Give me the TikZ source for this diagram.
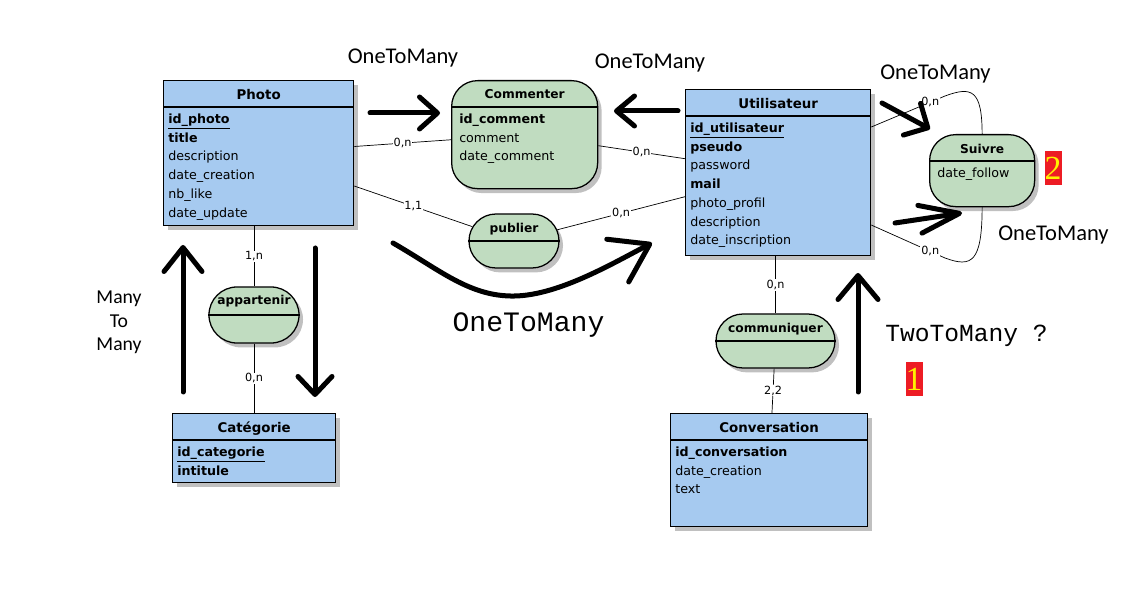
\documentclass[tikz,border=0pt]{standalone}
\usepackage{fontspec}
\setmainfont{DejaVu Sans}
\newfontfamily\calibfont{Carlito}
\newfontfamily\typefont{Liberation Mono}
\newfontfamily\digitfont{Liberation Serif}
\usepackage{xcolor}
\usepackage{tikz}
\usetikzlibrary{shapes.misc,arrows.meta,shadows}

\definecolor{entblue}{RGB}{166,202,240}
\definecolor{assocgreen}{RGB}{192,220,192}
\definecolor{shadowgray}{RGB}{192,192,192}
\definecolor{tagred}{RGB}{237,28,36}
\definecolor{tagyellow}{RGB}{255,242,0}

\begin{document}
\begin{tikzpicture}[
    x=0.025cm, y=-0.025cm,
    shadowed/.style={drop shadow={shadow xshift=0.1cm, shadow yshift=-0.11cm, fill=shadowgray, opacity=1}},
    entity/.style={rectangle, anchor=north west, draw=black, line width=0.9pt, fill=entblue, inner sep=0pt, shadowed},
    assoc/.style={rectangle, rounded corners=0.65cm, anchor=north west, draw=black, line width=0.9pt, fill=assocgreen, inner sep=0pt, shadowed},
    relation/.style={rounded rectangle, anchor=center, draw=black, line width=0.9pt, fill=assocgreen, inner sep=0pt, shadowed},
    heading/.style={anchor=base, inner sep=0pt, font=\bfseries\fontsize{9.5}{11}\selectfont},
    subheading/.style={heading, font=\bfseries\fontsize{8.7}{10}\selectfont},
    fields/.style={anchor=north west, align=left, inner sep=0pt, font=\fontsize{9}{13.3}\selectfont},
    card/.style={fill=white, inner sep=0.6pt, font=\fontsize{8}{9}\selectfont},
    link/.style={line width=0.5pt},
    bigarrow/.style={line width=0.125cm, line cap=round, line join=round, -{Straight Barb[round, length=0.5cm, width=0.9cm]}},
    note/.style={inner sep=0pt, font=\calibfont\fontsize{16}{18}\selectfont},
    typenote/.style={inner sep=0pt, font=\typefont\fontsize{20}{22}\selectfont},
    redtag/.style={fill=tagred, text=tagyellow, inner sep=0pt, minimum width=0.425cm, minimum height=0.825cm, font=\digitfont\fontsize{24}{24}\selectfont}
]
\useasboundingbox (0,0) rectangle (1133,616);

% Entities
\node (photo) [entity, minimum width=4.75cm, minimum height=3.625cm] at (163,80) {};
\node (utilisateur) [entity, minimum width=4.625cm, minimum height=4.15cm] at (685,89) {};
\node (categorie) [entity, minimum width=4.075cm, minimum height=1.725cm] at (172,413) {};
\node (conversation) [entity, minimum width=4.925cm, minimum height=2.825cm] at (670,413) {};

% Associations
\node (commenter) [assoc, minimum width=3.65cm, minimum height=2.7cm] at (451,80) {};
\node (suivre) [assoc, minimum width=2.625cm, minimum height=1.8cm] at (929,134) {};
\node (publier) [relation, minimum width=2.25cm, minimum height=1.35cm] at (514,241) {};
\node (appartenir) [relation, minimum width=2.25cm, minimum height=1.4cm] at (254,315) {};
\node (communiquer) [relation, minimum width=2.975cm, minimum height=1.35cm] at (775.5,341) {};

% Headings
\node (photo-h) [heading] at ([yshift=-0.475cm]photo.north) {Photo};
\node (utilisateur-h) [heading] at ([yshift=-0.475cm]utilisateur.north) {Utilisateur};
\node (categorie-h) [heading] at ([yshift=-0.475cm]categorie.north) {Catégorie};
\node (conversation-h) [heading] at ([yshift=-0.475cm]conversation.north) {Conversation};
\node (commenter-h) [subheading] at ([yshift=-0.46cm]commenter.north) {Commenter};
\node (suivre-h) [subheading] at ([yshift=-0.475cm]suivre.north) {Suivre};
\node (publier-h) [subheading] at ([yshift=-0.475cm]publier.north) {publier};
\node (appartenir-h) [subheading] at ([yshift=-0.45cm]appartenir.north) {appartenir};
\node (communiquer-h) [subheading] at ([yshift=-0.475cm]communiquer.north) {communiquer};

% Separators
\foreach \n in {photo,utilisateur,categorie,conversation,commenter,suivre}
    \draw [line width=0.8pt] ([yshift=-0.675cm]\n.north west) -- ([yshift=-0.675cm]\n.north east);
\foreach \n in {publier,appartenir,communiquer}
    \draw [line width=0.8pt] (\n.west) -- (\n.east);

% Fields
\node (photo-f) [fields] at ([xshift=0.125cm, yshift=-0.84cm]photo.north west) {\textbf{\underline{id\_photo}}\\ \textbf{title}\\ description\\ date\_creation\\ nb\_like\\ date\_update};
\node (utilisateur-f) [fields] at ([xshift=0.125cm, yshift=-0.84cm]utilisateur.north west) {\textbf{\underline{id\_utilisateur}}\\ \textbf{pseudo}\\ password\\ \textbf{mail}\\ photo\_profil\\ description\\ date\_inscription};
\node (categorie-f) [fields] at ([xshift=0.125cm, yshift=-0.84cm]categorie.north west) {\textbf{\underline{id\_categorie}}\\ \textbf{intitule}};
\node (conversation-f) [fields] at ([xshift=0.125cm, yshift=-0.84cm]conversation.north west) {\textbf{id\_conversation}\\ date\_creation\\ text};
\node (commenter-f) [fields] at ([xshift=0.2cm, yshift=-0.84cm]commenter.north west) {\textbf{id\_comment}\\ comment\\ date\_comment};
\node (suivre-f) [fields] at ([xshift=0.2cm, yshift=-0.83cm]suivre.north west) {date\_follow};

% Links
\draw [link] (photo) -- node[card] {0,n} (commenter);
\draw [link] (photo) -- node[card] {1,1} (publier);
\draw [link] (publier) -- node[card] {0,n} (utilisateur);
\draw [link] (commenter) -- node[card] {0,n} (utilisateur);
\draw [link] (photo.south -| appartenir.north) -- node[card] {1,n} (appartenir);
\draw [link] (appartenir) -- node[card] {0,n} (categorie.north -| appartenir.south);
\draw [link] (utilisateur.south -| communiquer.north) -- node[card] {0,n} (communiquer);
\draw [link] (communiquer) -- node[card] {2,2} (conversation);
\coordinate (loop1) at (945,96);
\coordinate (loop2) at (945,258);
\draw [link] ([yshift=-0.95cm]utilisateur.north east) -- node[card, pos=0.8] {0,n} (loop1) .. controls (972,86) and (982,90) .. (suivre.north);
\draw [link] ([yshift=-3.4cm]utilisateur.north east) -- node[card, pos=0.8] {0,n} (loop2) .. controls (972,268) and (982,262) .. (suivre.south);

% Notes
\node (otm1) [note] at (403,58) {OneToMany};
\node (otm2) [note] at (650,63.5) {OneToMany};
\node (otm3) [note] at (935.5,74.5) {OneToMany};
\node (otm4) [note] at (1053.5,235) {OneToMany};
\node (mtm) [note, align=center, font=\calibfont\fontsize{14}{16.7}\selectfont] at (119,322.5) {Many\\To\\Many};
\node (otm5) [typenote] at (528.5,325) {OneToMany};
\node (ttm) [typenote, font=\typefont\fontsize{17.5}{20}\selectfont] at (966.5,336) {TwoToMany ?};
\node (tag1) [redtag] at (914,379) {1};
\node (tag2) [redtag] at (1053,168) {2};

% Arrows
\coordinate (a1s) at (370,113); \coordinate (a1e) at (440,113);
\coordinate (a2s) at (678,111); \coordinate (a2e) at (614,111);
\coordinate (a3s) at (882,103); \coordinate (a3e) at (930,129);
\coordinate (a4s) at (895,223); \coordinate (a4e) at (962,213);
\coordinate (a5s) at (393,243); \coordinate (a5m) at (515,296); \coordinate (a5e) at (652,243);
\coordinate (a6s) at (183,392); \coordinate (a6e) at (183,245);
\coordinate (a7s) at (315,248); \coordinate (a7e) at (315,397);
\coordinate (a8s) at (858,392); \coordinate (a8e) at (858,273);
\draw [bigarrow, -{Straight Barb[round, length=0.45cm, width=0.8cm]}] (a1s) -- (a1e);
\draw [bigarrow, -{Straight Barb[round, length=0.45cm, width=0.75cm]}] (a2s) -- (a2e);
\draw [bigarrow, -{Straight Barb[round, length=0.45cm, width=0.9cm]}] (a3s) -- (a3e);
\draw [bigarrow, -{Straight Barb[round, length=1cm, width=0.7cm]}] (a4s) -- (a4e);
\draw [bigarrow, -{Straight Barb[round, length=0.9cm, width=1.2cm]}] (a5s) .. controls (440,270) and (470,297) .. (a5m) .. controls (560,295) and (615,262) .. (a5e);
\draw [bigarrow, -{Straight Barb[round, length=0.6cm, width=0.95cm]}] (a6s) -- (a6e);
\draw [bigarrow, -{Straight Barb[round, length=0.45cm, width=0.85cm]}] (a7s) -- (a7e);
\draw [bigarrow, -{Straight Barb[round, length=0.6cm, width=1cm]}] (a8s) -- (a8e);

\end{tikzpicture}
\end{document}
